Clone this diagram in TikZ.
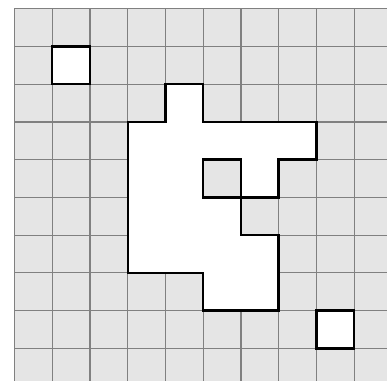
\documentclass[tikz,border=0pt]{standalone}
\usepackage{tikz}

\begin{document}
\begin{tikzpicture}[
  cellgrid/.style={draw=black!50, line width=0.9pt},
  board/.style={fill=black!10},
  region/.style={fill=white, draw=black, line width=1.8pt, line join=miter}
]
  \useasboundingbox (-0.384,0.23) rectangle (9.87,-9.86);
  \clip (-0.384,0.23) rectangle (9.87,-9.86);
  % background board
  \fill[board] (0,0) rectangle (10.5,-10.5);
  \draw[cellgrid] (0,0) grid (10.5,-10.5);
  % single free cells
  \foreach \c/\r in {1/1, 8/8}
    \draw[region] (\c,-\r) rectangle ++(1,-1);
  % large region with one hole
  \draw[region, even odd rule]
    (4,-2) -- (5,-2) -- (5,-3) -- (8,-3) -- (8,-4) -- (7,-4) -- (7,-5)
    -- (6,-5) -- (6,-6) -- (7,-6) -- (7,-8) -- (5,-8) -- (5,-7) -- (3,-7)
    -- (3,-3) -- (4,-3) -- cycle
    (5,-4) rectangle (6,-5);
\end{tikzpicture}
\end{document}
